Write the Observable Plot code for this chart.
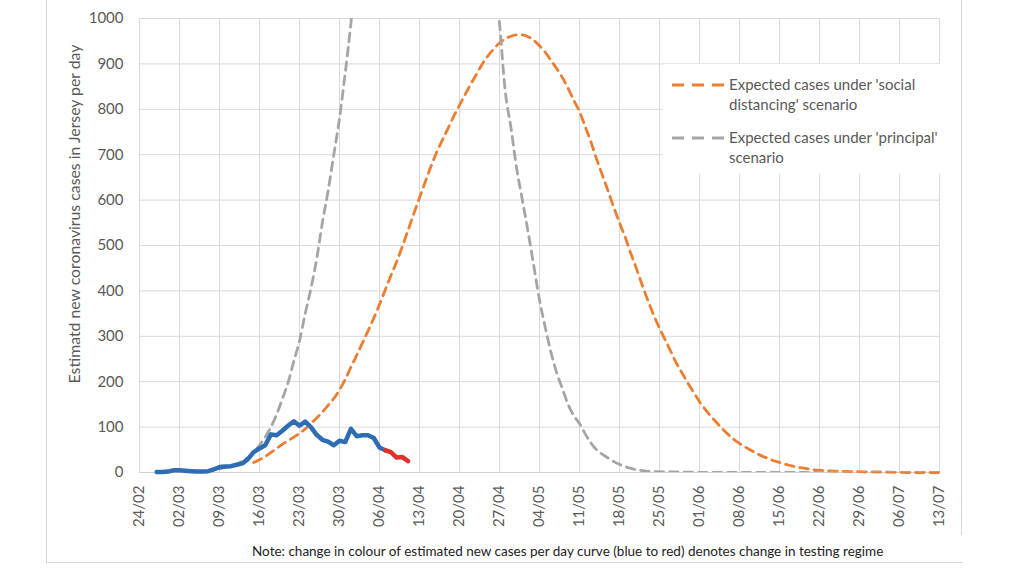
<!DOCTYPE html>
<html><head><meta charset="utf-8">
<script src="https://cdn.jsdelivr.net/npm/d3@7"></script>
<script src="https://cdn.jsdelivr.net/npm/@observablehq/plot@0.6"></script>
<style>
body{margin:0;background:#fff;width:1024px;height:576px;overflow:hidden;position:relative;font-family:Lato,sans-serif;color:#595959}
#chart{position:absolute;left:0;top:0}
.fl{position:absolute;left:46px;top:0;width:1px;height:563px;background:#d9d9d9}
.fr{position:absolute;left:961px;top:0;width:1px;height:535px;background:#d9d9d9}
.fb{position:absolute;left:46px;top:562px;width:917px;height:1px;background:#d9d9d9}
#ytitle{position:absolute;left:73px;top:214px;transform:translate(-50%,-50%) rotate(-90deg);font-size:15.8px;white-space:nowrap;color:#595959}
#legend{position:absolute;left:663px;top:64px;width:292px;height:110px;background:#fff}
.lt{position:absolute;font-size:15px;line-height:1;white-space:nowrap;color:#595959}
#note{position:absolute;left:252px;top:543px;font-size:13.5px;white-space:nowrap;color:#222}
</style></head>
<body>
<div id="chart"></div>
<div class="fl"></div><div class="fr"></div><div class="fb"></div>
<div id="ytitle">Estimatd new coronavirus cases in Jersey per day</div>
<div id="legend"></div>
<div id="note">Note: change in colour of estimated new cases per day curve (blue to red) denotes change in testing regime</div>
<script>
const tickLabels = ["24/02","02/03","09/03","16/03","23/03","30/03","06/04","13/04","20/04","27/04","04/05","11/05","18/05","25/05","01/06","08/06","15/06","22/06","29/06","06/07","13/07"];
const yTicks = [0,100,200,300,400,500,600,700,800,900,1000];

// days counted from 24/02
const blueDays  = [3,4,5,6,7,8,9,10,11,12,13,14,15,16,17,18,19,20,21,22,23,24,25,26,27,28,29,30,31,32,33,34,35,36,37,38,39,40,41,42,43];
const blueCases = [1,1,2,5,5,4,3,2,2,3,7,12,13,14,17,20,30,45,53,60,84,82,92,103,113,103,112,100,83,72,68,60,70,67,96,80,82,82,76,55,49];
const redDays  = [43,44,45,46,47];
const redCases = [49,45,33,34,25];

const socialDays  = [20,21,22,23,24,25,26,27,28,29,30,31,32,33,34,35,36,37,38,39,40,41,42,43,44,45,46,47,48,49,50,51,52,53,54,55,56,57,58,59,60,61,62,63,64,65,66,67,68,69,70,71,72,73,74,75,76,77,78,79,80,81,82,83,84,85,86,87,88,89,90,91,92,93,94,95,96,97,98,99,100,101,102,103,104,105,106,107,108,109,110,111,112,113,114,115,116,117,118,119,120,122,125,130,135,140];
const socialCases = [22,28,35,44,53,62,70,78,86,96,108,120,133,148,163,182,205,232,258,285,312,340,370,402,434,464,498,534,570,605,640,674,705,732,758,785,809,833,856,878,900,918,933,946,955,961,964,964,960,952,940,926,908,890,870,846,820,795,762,728,690,655,620,584,550,518,482,448,412,378,346,318,292,266,240,218,196,176,156,139,124,110,96,84,73,64,56,49,42,36,31,26,22,18,15,12,10,8,6,5,4,3,2,1,0,0];

const principalDays  = [14,15,16,17,18,19,20,21,22,23,24,25,26,27,28,29,30,31,32,33,34,35,36,37,38,39,40,45,50,55,60,61,62,63,64,65,66,67,68,69,70,71,72,73,74,75,76,77,78,79,80,81,82,83,84,85,86,87,88,90,95,100,110,120,130,140];
const principalCases = [8,11,14,18,25,33,45,60,78,100,128,162,198,245,290,350,405,470,550,620,700,780,880,990,1120,1260,1420,2300,2700,2300,1400,1250,1110,990,840,760,670,600,530,455,380,320,265,220,185,150,125,108,85,65,50,40,32,24,18,13,9,6,4,2,1,0,0,0,0,0];

const tickDays = tickLabels.map((_, i) => i * 7);
const rows = (days, cases) => days.map((d, i) => ({day: d, cases: cases[i]}));

const chart = Plot.plot({
  width: 1024, height: 540,
  marginLeft: 139, marginRight: 85, marginTop: 18, marginBottom: 68,
  style: {fontFamily: "Lato, sans-serif", fontSize: "15px", color: "#595959", background: "transparent", overflow: "visible"},
  x: {domain: [0, 140]},
  y: {domain: [0, 1000]},
  marks: [
    Plot.gridY(yTicks, {stroke: "#d9d9d9", strokeOpacity: 1}),
    Plot.gridX(tickDays, {stroke: "#d9d9d9", strokeOpacity: 1}),
    Plot.ruleY([0], {stroke: "#cfcfcf"}),
    Plot.axisY(yTicks, {tickSize: 0, tickPadding: 16, tickFormat: d => String(d), label: null, fontSize: 15}),
    Plot.axisX(tickDays, {tickSize: 0, tickPadding: 13, tickRotate: -90, tickFormat: d => tickLabels[Math.round(d / 7)], label: null, fontSize: 15}),
    Plot.line(rows(socialDays, socialCases), {x: "day", y: "cases", stroke: "#ED7D31", strokeWidth: 2.8, strokeDasharray: "8.5,6", curve: "monotone-x"}),
    Plot.line(rows(principalDays, principalCases), {x: "day", y: "cases", stroke: "#A5A5A5", strokeWidth: 2.8, strokeDasharray: "8.5,6", curve: "monotone-x", clip: true}),
    Plot.line(rows(blueDays, blueCases), {x: "day", y: "cases", stroke: "#2E6DB4", strokeWidth: 4.5, strokeLinejoin: "round", strokeLinecap: "round"}),
    Plot.line(rows(redDays, redCases), {x: "day", y: "cases", stroke: "#E0302A", strokeWidth: 4.5, strokeLinejoin: "round", strokeLinecap: "round"})
  ]
});
document.getElementById("chart").appendChild(chart);

// legend
const legendItems = [
  {color: "#ED7D31", lines: ["Expected cases under 'social", "distancing' scenario"]},
  {color: "#A5A5A5", lines: ["Expected cases under 'principal'", "scenario"]}
];
const legend = document.getElementById("legend");
legendItems.forEach((it, k) => {
  const top0 = 13 + k * 53;
  const sw = document.createElementNS("http://www.w3.org/2000/svg", "svg");
  sw.setAttribute("width", 56); sw.setAttribute("height", 6);
  sw.style.position = "absolute"; sw.style.left = "9px"; sw.style.top = (top0 + 5) + "px";
  const ln = document.createElementNS("http://www.w3.org/2000/svg", "line");
  ln.setAttribute("x1", 0); ln.setAttribute("x2", 56); ln.setAttribute("y1", 3); ln.setAttribute("y2", 3);
  ln.setAttribute("stroke", it.color); ln.setAttribute("stroke-width", 3);
  ln.setAttribute("stroke-dasharray", "12,8");
  sw.appendChild(ln); legend.appendChild(sw);
  it.lines.forEach((t, j) => {
    const d = document.createElement("div");
    d.className = "lt"; d.textContent = t;
    d.style.left = "66px"; d.style.top = (top0 + j * 20) + "px";
    legend.appendChild(d);
  });
});
</script>
</body></html>
